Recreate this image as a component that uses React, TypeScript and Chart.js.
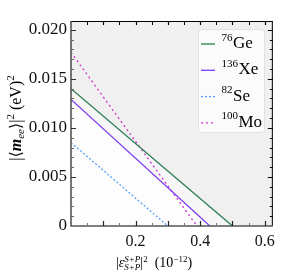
import { useEffect, useRef } from 'react';
import { Chart, registerables } from 'chart.js';

Chart.register(...registerables);

// ---- data ----
const isotopeMass = ['76', '136', '82', '100'];
const isotopeSymbol = ['Ge', 'Xe', 'Se', 'Mo'];
const geX = [0, 0.5];
const geY = [0.014, 0];
const xeX = [0, 0.43];
const xeY = [0.0129, 0];
const seX = [0, 0.3];
const seY = [0.0085, 0];
const moX = [0, 0.39];
const moY = [0.0177, 0];
const xTickValues = [0.2, 0.4, 0.6];
const yTickValues = [0, 0.005, 0.01, 0.015, 0.02];
const yTickLabels = ['0', '0.005', '0.010', '0.015', '0.020'];

const seriesX = [geX, xeX, seX, moX];
const seriesY = [geY, xeY, seY, moY];
const colors = ['#2b7d50', '#7d3ff0', '#5aa2ff', '#d22ed2'];
const dashes: number[][] = [[], [], [2, 2], [2, 3]];

const SERIF = '"Liberation Serif", "DejaVu Serif", serif';

type Seg = { t: string; size: number; style?: string; dy?: number; dx?: number; noAdvance?: boolean };

function drawRich(ctx: CanvasRenderingContext2D, segs: Seg[], x: number, y: number, align: 'center' | 'left') {
  ctx.textBaseline = 'alphabetic';
  ctx.textAlign = 'left';
  const widths = segs.map((s) => {
    ctx.font = `${s.style || ''} ${s.size}px ${SERIF}`;
    return ctx.measureText(s.t).width;
  });
  let total = 0;
  segs.forEach((s, i) => {
    if (!s.noAdvance) total += widths[i] + (s.dx || 0);
  });
  let cx = align === 'center' ? x - total / 2 : x;
  segs.forEach((s, i) => {
    ctx.font = `${s.style || ''} ${s.size}px ${SERIF}`;
    ctx.fillText(s.t, cx + (s.dx || 0), y + (s.dy || 0));
    if (!s.noAdvance) cx += widths[i] + (s.dx || 0);
  });
}

const customPlugin = {
  id: 'custom',
  beforeDatasetsDraw(chart: any) {
    const { ctx, chartArea: a, scales } = chart;
    const x = scales.x;
    const y = scales.y;
    ctx.save();
    ctx.fillStyle = '#f0f0f0';
    ctx.fillRect(a.left, a.top, a.width, a.height);
    const poly = (xs: number[], ys: number[], col: string) => {
      ctx.beginPath();
      ctx.moveTo(x.getPixelForValue(0), y.getPixelForValue(0));
      for (let i = 0; i < xs.length; i++) ctx.lineTo(x.getPixelForValue(xs[i]), y.getPixelForValue(ys[i]));
      ctx.closePath();
      ctx.fillStyle = col;
      ctx.fill();
    };
    poly(geX, geY, '#f7f7f7');
    poly(xeX, xeY, '#fdfdfd');
    ctx.restore();
  },
  afterDraw(chart: any) {
    const { ctx, chartArea: a, scales } = chart;
    const x = scales.x;
    const y = scales.y;
    ctx.save();
    // frame
    ctx.lineWidth = 1;
    ctx.strokeStyle = '#000';
    ctx.beginPath();
    ctx.moveTo(a.left, a.top + 0.5);
    ctx.lineTo(a.right, a.top + 0.5);
    ctx.moveTo(a.right - 0.5, a.top);
    ctx.lineTo(a.right - 0.5, a.bottom);
    ctx.stroke();
    ctx.lineWidth = 1.6;
    ctx.strokeStyle = '#555';
    ctx.beginPath();
    ctx.moveTo(a.left, a.top);
    ctx.lineTo(a.left, a.bottom);
    ctx.lineTo(a.right, a.bottom);
    ctx.stroke();

    // x ticks
    for (let k = 1; k <= 12; k++) {
      const v = k * 0.05;
      const px = Math.round(x.getPixelForValue(v)) + 0.5;
      const major = k % 2 === 0;
      const len = major ? 5 : 3;
      ctx.lineWidth = major ? 1.2 : 1;
      ctx.strokeStyle = major ? '#222' : '#777';
      ctx.beginPath();
      ctx.moveTo(px, a.bottom);
      ctx.lineTo(px, a.bottom - len);
      ctx.stroke();
      ctx.strokeStyle = '#000';
      ctx.beginPath();
      ctx.moveTo(px, a.top);
      ctx.lineTo(px, a.top + 4);
      ctx.stroke();
    }
    // y ticks
    for (let k = 1; k <= 20; k++) {
      const v = k * 0.001;
      const py = Math.round(y.getPixelForValue(v)) + 0.5;
      const major = k % 5 === 0;
      const len = major ? 5 : 3;
      ctx.lineWidth = 1;
      ctx.strokeStyle = major ? '#333' : '#666';
      ctx.beginPath();
      ctx.moveTo(a.left, py);
      ctx.lineTo(a.left + len, py);
      ctx.stroke();
      ctx.strokeStyle = '#000';
      ctx.beginPath();
      ctx.moveTo(a.right, py);
      ctx.lineTo(a.right - len, py);
      ctx.stroke();
    }

    // legend
    const bx = 198, by = 29, bw = 66, bh = 103;
    ctx.beginPath();
    ctx.roundRect(bx + 0.5, by + 0.5, bw, bh, 3);
    ctx.fillStyle = 'rgba(255,255,255,0.75)';
    ctx.fill();
    ctx.strokeStyle = '#e2e2e2';
    ctx.lineWidth = 1;
    ctx.stroke();
    for (let i = 0; i < 4; i++) {
      const ly = 44 + i * 26.3;
      ctx.strokeStyle = colors[i];
      ctx.lineWidth = 1.3;
      ctx.setLineDash(dashes[i]);
      ctx.beginPath();
      ctx.moveTo(201, ly);
      ctx.lineTo(215, ly);
      ctx.stroke();
      ctx.setLineDash([]);
      ctx.fillStyle = '#000';
      drawRich(
        ctx,
        [
          { t: isotopeMass[i], size: 11, dy: -7.5 },
          { t: isotopeSymbol[i], size: 17, dx: 0.5 },
        ],
        221.5,
        ly + 4,
        'left'
      );
    }

    // x title
    ctx.fillStyle = '#000';
    drawRich(
      ctx,
      [
        { t: '|', size: 14 },
        { t: 'ε', size: 14, style: 'italic' },
        { t: 'S+P', size: 9, style: 'italic', dy: -5, noAdvance: true },
        { t: 'S+P', size: 9, style: 'italic', dy: 3 },
        { t: '|', size: 14 },
        { t: '2', size: 9, dy: -5 },
        { t: '  (10', size: 14 },
        { t: '−12', size: 9, dy: -5 },
        { t: ')', size: 14 },
      ],
      154,
      267,
      'center'
    );

    // y title
    ctx.translate(21, 118);
    ctx.rotate(-Math.PI / 2);
    drawRich(
      ctx,
      [
        { t: '|⟨', size: 16 },
        { t: 'm', size: 16, style: 'italic bold' },
        { t: 'ee', size: 11, style: 'italic', dy: 3 },
        { t: '⟩|', size: 16 },
        { t: '2', size: 11, dy: -7 },
        { t: ' (eV)', size: 16 },
        { t: '2', size: 11, dy: -7 },
      ],
      0,
      0,
      'center'
    );
    ctx.restore();
  },
};

export default function App() {
  const ref = useRef<HTMLCanvasElement>(null);
  useEffect(() => {
    if (!ref.current) return;
    const chart = new Chart(ref.current, {
      type: 'line',
      data: {
        datasets: seriesX.map((xs, i) => ({
          label: isotopeMass[i] + isotopeSymbol[i],
          data: xs.map((xv, j) => ({ x: xv, y: seriesY[i][j] })),
          borderColor: colors[i],
          borderWidth: 1.3,
          borderDash: dashes[i],
          pointRadius: 0,
          fill: false,
          tension: 0,
        })),
      },
      options: {
        responsive: false,
        animation: false,
        devicePixelRatio: 1,
        layout: { padding: { left: 0, top: 21, right: 6, bottom: 0 } },
        plugins: { legend: { display: false }, tooltip: { enabled: false } },
        scales: {
          x: {
            type: 'linear',
            min: 0,
            max: 0.625,
            border: { display: false },
            grid: { display: false, drawTicks: false },
            afterBuildTicks: (s: any) => {
              s.ticks = xTickValues.map((v) => ({ value: v }));
            },
            afterFit: (s: any) => {
              s.height = 47;
            },
            ticks: {
              padding: 6,
              color: '#111',
              maxRotation: 0,
              autoSkip: false,
              font: { family: SERIF, size: 16 },
              callback: (v: any) => String(v),
            },
          },
          y: {
            type: 'linear',
            min: 0,
            max: 0.0209,
            border: { display: false },
            grid: { display: false, drawTicks: false },
            afterBuildTicks: (s: any) => {
              s.ticks = yTickValues.map((v) => ({ value: v }));
            },
            afterFit: (s: any) => {
              s.width = 71;
            },
            ticks: {
              padding: 4,
              color: '#111',
              autoSkip: false,
              font: { family: SERIF, size: 17 },
              callback: (v: any) => {
                const idx = yTickValues.findIndex((t) => Math.abs(t - v) < 1e-9);
                return idx >= 0 ? yTickLabels[idx] : '';
              },
            },
          },
        },
      },
      plugins: [customPlugin],
    });
    return () => chart.destroy();
  }, []);
  return (
    <div style={{ position: 'absolute', left: 0, top: 0, width: 281, height: 273, background: '#fff' }}>
      <canvas ref={ref} width={281} height={273} />
    </div>
  );
}
